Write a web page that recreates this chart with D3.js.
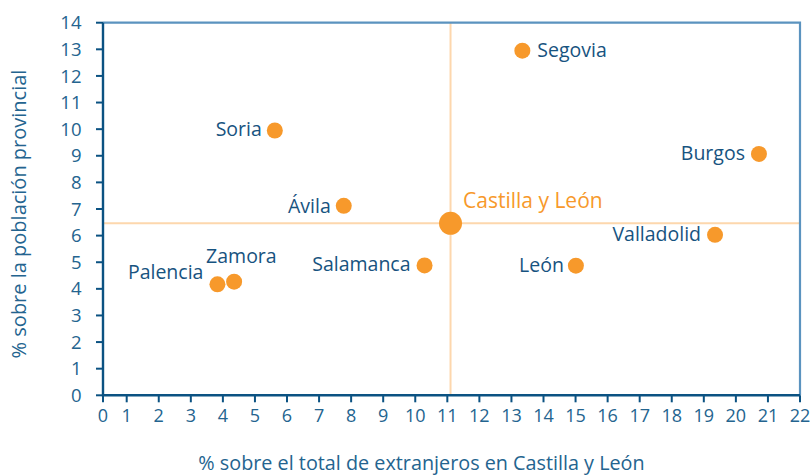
<!DOCTYPE html>
<html><head><meta charset="utf-8">
<script src="https://cdn.jsdelivr.net/npm/d3@7"></script>
<style>body{margin:0;background:#fff}svg{display:block}</style>
</head><body>
<svg id="c" width="811" height="475"></svg>
<script>
const provinces = ["Palencia","Zamora","Soria","Ávila","Salamanca","Segovia","León","Valladolid","Burgos"];
const xValues = [3.83, 4.35, 5.62, 7.77, 10.29, 13.34, 15.01, 19.35, 20.72];
const yValues = [4.17, 4.27, 9.95, 7.12, 4.88, 12.95, 4.87, 6.03, 9.07];
const regionName = "Castilla y León";
const regionX = 11.1, regionY = 6.46;
const xTicks = [0,1,2,3,4,5,6,7,8,9,10,11,12,13,14,15,16,17,18,19,20,21,22];
const yTicks = [0,1,2,3,4,5,6,7,8,9,10,11,12,13,14];
const xTitle = "% sobre el total de extranjeros en Castilla y León";
const yTitle = "% sobre la población provincial";
// label placement: side and offsets
const labelPos = {
  "Palencia":{a:"end",dx:-14,dy:-5},
  "Zamora":{a:"start",dx:-28,dy:-19},
  "Soria":{a:"end",dx:-13,dy:6},
  "Ávila":{a:"end",dx:-13,dy:7},
  "Salamanca":{a:"end",dx:-14,dy:6},
  "Segovia":{a:"start",dx:15,dy:6},
  "León":{a:"end",dx:-12,dy:6},
  "Valladolid":{a:"end",dx:-14,dy:6},
  "Burgos":{a:"end",dx:-14,dy:6}
};

const svg = d3.select("#c");
const pLeft = 103, pRight = 800, pTop = 22.7, pBottom = 395.3;
const x = d3.scaleLinear().domain([1,22]).range([126.7,800]);
const y = d3.scaleLinear().domain([0,14]).range([pBottom, pTop]);
const font = "'Open Sans', sans-serif";
const axisCol = "#0b5282", tickTxt = "#24648f", labelCol = "#175380", orange = "#f7992b", guide = "#fdd7ad";

// guide lines
svg.append("line").attr("x1",pLeft).attr("x2",pRight).attr("y1",y(regionY)).attr("y2",y(regionY)).attr("stroke",guide).attr("stroke-width",2);
svg.append("line").attr("x1",x(regionX)).attr("x2",x(regionX)).attr("y1",pTop).attr("y2",pBottom).attr("stroke",guide).attr("stroke-width",2);

// frame top/right
svg.append("path").attr("d",`M${pLeft},${pTop}H${pRight}V${pBottom}`).attr("fill","none").attr("stroke","#5b93bf").attr("stroke-width",2.2);

// axes
const xpos = v => Math.max(x(v), pLeft);
const gx = svg.append("g");
gx.selectAll("line.t").data(xTicks).join("line").attr("x1",xpos).attr("x2",xpos).attr("y1",pBottom).attr("y2",pBottom+7).attr("stroke",axisCol).attr("stroke-width",2);
gx.selectAll("text").data(xTicks).join("text").attr("x",xpos).attr("y",pBottom+26.5).attr("text-anchor","middle")
  .attr("font-family",font).attr("font-size",18).attr("fill",tickTxt).text(d=>d);
const gy = svg.append("g");
gy.selectAll("line.t").data(yTicks).join("line").attr("x1",pLeft-7).attr("x2",pLeft).attr("y1",d=>y(d)).attr("y2",d=>y(d)).attr("stroke",axisCol).attr("stroke-width",2);
gy.selectAll("text").data(yTicks).join("text").attr("x",81.5).attr("y",d=>y(d)+6.6).attr("text-anchor","end")
  .attr("font-family",font).attr("font-size",18.5).attr("fill",tickTxt).text(d=>d);
svg.append("path").attr("d",`M${pLeft},${pTop}V${pBottom}H${pRight}`).attr("fill","none").attr("stroke",axisCol).attr("stroke-width",2.4);

// titles
svg.append("text").attr("x",421.5).attr("y",470).attr("text-anchor","middle").attr("font-family",font).attr("font-size",19.8).attr("fill",tickTxt).text(xTitle);
svg.append("text").attr("transform",`translate(26,214) rotate(-90)`).attr("text-anchor","middle").attr("font-family",font).attr("font-size",20).attr("fill",tickTxt).text(yTitle);

// points
const data = provinces.map((p,i)=>({name:p,x:xValues[i],y:yValues[i]}));
svg.selectAll("circle.p").data(data).join("circle").attr("cx",d=>x(d.x)).attr("cy",d=>y(d.y)).attr("r",8).attr("fill",orange);
svg.selectAll("text.l").data(data).join("text").attr("x",d=>x(d.x)+labelPos[d.name].dx).attr("y",d=>y(d.y)+labelPos[d.name].dy)
  .attr("text-anchor",d=>labelPos[d.name].a).attr("font-family",font).attr("font-size",19.5).attr("fill",labelCol).text(d=>d.name);
svg.append("circle").attr("cx",x(regionX)).attr("cy",y(regionY)).attr("r",11.5).attr("fill",orange);
svg.append("text").attr("x",x(regionX)+12.5).attr("y",y(regionY)-15).attr("font-family",font).attr("font-size",21).attr("fill",orange).text(regionName);
</script>
</body></html>
